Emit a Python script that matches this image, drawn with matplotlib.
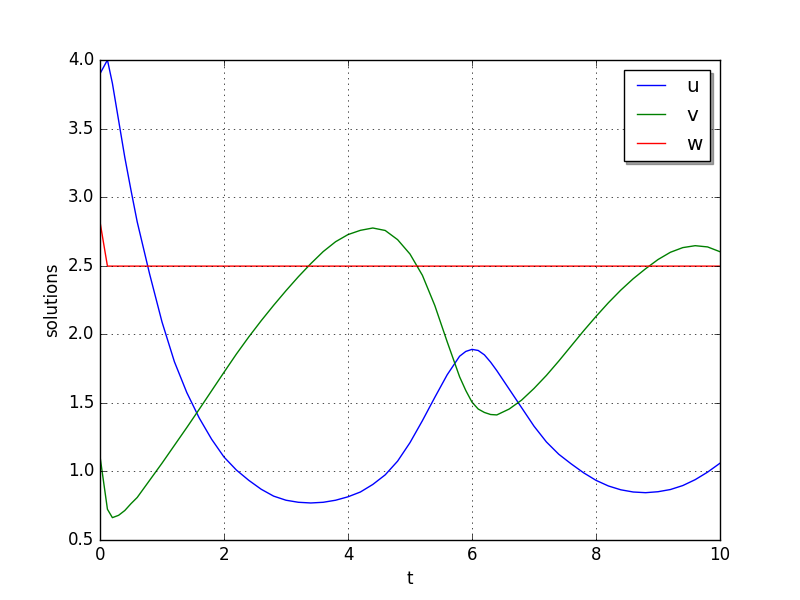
import matplotlib
matplotlib.use('Agg')
import matplotlib.pyplot as plt

plt.style.use('classic')

# time points
t = [0.0, 0.12, 0.2, 0.3, 0.4, 0.5, 0.6, 0.8, 1.0, 1.2, 1.4, 1.6, 1.8, 2.0,
     2.2, 2.4, 2.6, 2.8, 3.0, 3.2, 3.4, 3.6, 3.8, 4.0, 4.2, 4.4, 4.6, 4.8,
     5.0, 5.2, 5.4, 5.6, 5.8, 5.9, 6.0, 6.1, 6.2, 6.3, 6.4, 6.6, 6.8, 7.0,
     7.2, 7.4, 7.6, 7.8, 8.0, 8.2, 8.4, 8.6, 8.8, 9.0, 9.2, 9.4, 9.6, 9.8,
     10.0]

u = [3.90, 4.00, 3.83, 3.56, 3.29, 3.05, 2.82, 2.44, 2.09, 1.80, 1.575,
     1.39, 1.235, 1.105, 1.01, 0.935, 0.87, 0.82, 0.79, 0.775, 0.77, 0.775,
     0.79, 0.815, 0.85, 0.905, 0.975, 1.075, 1.21, 1.37, 1.54, 1.705, 1.84,
     1.875, 1.89, 1.882, 1.85, 1.797, 1.735, 1.60, 1.465, 1.33, 1.215,
     1.125, 1.055, 0.99, 0.935, 0.894, 0.866, 0.85, 0.845, 0.852, 0.868,
     0.897, 0.94, 0.995, 1.06]

v = [1.11, 0.724, 0.663, 0.68, 0.715, 0.765, 0.81, 0.935, 1.06, 1.19, 1.32,
     1.453, 1.588, 1.723, 1.856, 1.981, 2.099, 2.211, 2.318, 2.42, 2.515,
     2.603, 2.675, 2.727, 2.758, 2.775, 2.757, 2.69, 2.585, 2.43, 2.21,
     1.945, 1.69, 1.59, 1.505, 1.455, 1.43, 1.415, 1.412, 1.455, 1.52,
     1.605, 1.70, 1.805, 1.915, 2.025, 2.13, 2.23, 2.322, 2.405, 2.478,
     2.545, 2.598, 2.632, 2.646, 2.637, 2.602]

w = [2.82] + [2.497] * (len(t) - 1)

fig = plt.figure(figsize=(8, 6), dpi=100)
ax = fig.add_subplot(111)

ax.plot(t, u, 'b-', label='u')
ax.plot(t, v, 'g-', label='v')
ax.plot(t, w, 'r-', label='w')

ax.set_xlim(0, 10)
ax.set_ylim(0.5, 4.0)
ax.set_xlabel('t')
ax.set_ylabel('solutions')
ax.grid(True)
ax.legend(loc='upper right', shadow=True, borderpad=0.35)

fig.savefig('out.png', dpi=100, facecolor='white')
